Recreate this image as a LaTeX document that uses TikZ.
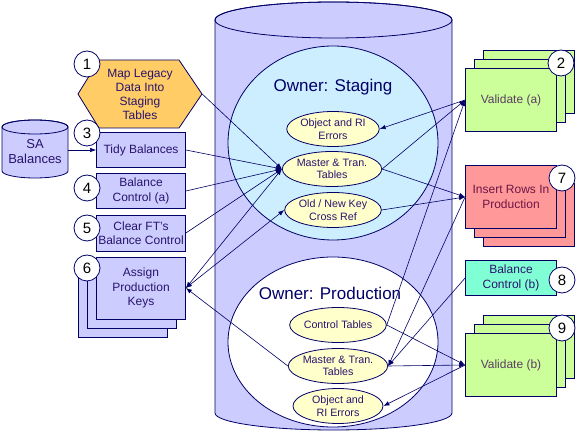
\documentclass[tikz,border=0pt]{standalone}
\usepackage{fontspec}
\setmainfont{Liberation Sans}
\usetikzlibrary{arrows.meta,shapes.geometric}

\definecolor{navy}{RGB}{0,0,102}
\definecolor{lav}{RGB}{204,204,255}
\definecolor{stagefill}{RGB}{204,238,255}
\definecolor{tblfill}{RGB}{255,255,204}
\definecolor{hexfill}{RGB}{255,204,102}
\definecolor{grn}{RGB}{204,255,153}
\definecolor{salmon}{RGB}{255,153,153}
\definecolor{aqua}{RGB}{128,255,212}
\definecolor{txtblue}{RGB}{40,20,110}
\definecolor{txtred}{RGB}{110,20,70}
\definecolor{txtgrn}{RGB}{90,60,100}

\begin{document}
\begin{tikzpicture}[x=1pt,y=1pt,
    outline/.style={draw=navy,line width=0.8pt},
    tbl/.style={ellipse,outline,fill=tblfill,inner sep=0pt,minimum width=90pt,
      minimum height=35pt,align=center,text=txtblue,font=\fontsize{10.7}{12.5}\selectfont},
    procbox/.style={rectangle,outline,fill=lav,inner sep=1pt,minimum width=89pt,
      minimum height=35pt,align=center,text=txtblue,font=\fontsize{12}{14.5}\selectfont},
    valbox/.style={procbox,fill=grn,text=txtgrn,minimum width=91pt,minimum height=63pt},
    insbox/.style={valbox,fill=salmon,text=txtred},
    ctlbox/.style={procbox,fill=aqua,minimum width=91pt},
    ownerlbl/.style={text=navy,font=\fontsize{17}{20}\selectfont},
    numc/.style={circle,outline,fill=white,inner sep=0pt,minimum size=26pt,
      font=\fontsize{15}{15}\selectfont},
    flow/.style={draw=navy,line width=0.6pt,-{Latex[length=6pt,width=4.5pt]}},
    flowboth/.style={flow,{Latex[length=6pt,width=4.5pt]}-{Latex[length=6pt,width=4.5pt]}}]
  \useasboundingbox (0,0) rectangle (576,-435);

  % the database with its two owners
  \draw[outline,fill=lav] (215,-20) -- (215,-413)
    arc[start angle=180,end angle=360,x radius=118.5,y radius=17]
    -- (452,-20) arc[start angle=0,end angle=180,x radius=118.5,y radius=18] -- cycle;
  \draw[outline] (333.5,-20) ellipse[x radius=118.5,y radius=18];
  \draw[outline,fill=stagefill] (333,-143) ellipse[x radius=105,y radius=97];
  \draw[outline,fill=white] (333,-342) ellipse[x radius=105,y radius=85];
  \node[ownerlbl] (stg) at (333,-87) {Owner: Staging};
  \node[ownerlbl] (prd) at (330,-293) {Owner: Production};

  \node[tbl] (serr) at (333,-129) {Object and RI\\Errors};
  \node[tbl] (smast) at (332,-169) {Master \& Tran.\\Tables};
  \node[tbl] (xref) at (333,-210) {Old / New Key\\Cross Ref};
  \node[tbl] (ctrl) at (338,-325) {Control Tables};
  \node[tbl] (pmast) at (338,-366) {Master \& Tran.\\Tables};
  \node[tbl] (perr) at (338,-406) {Object and\\RI Errors};

  % left hand steps
  \draw[outline,fill=hexfill] (78,-94) -- (99,-60) -- (179,-60) -- (202,-94)
    -- (179,-128) -- (99,-128) -- cycle;
  \node[align=center,text=txtblue,minimum width=124pt,inner sep=0pt,
    font=\fontsize{12}{14}\selectfont] (map) at (140,-94) {Map Legacy\\Data Into\\Staging\\Tables};

  \draw[outline,fill=lav] (2,-127) -- (2,-171)
    arc[start angle=180,end angle=360,x radius=33,y radius=7]
    -- (68,-127) arc[start angle=0,end angle=180,x radius=33,y radius=7] -- cycle;
  \draw[outline] (35,-127) ellipse[x radius=33,y radius=7];
  \node[align=center,text=txtblue,minimum width=66pt,inner sep=0pt,
    font=\fontsize{13}{15}\selectfont] (sa) at (35,-152) {SA\\Balances};

  \node[procbox] (tidy) at (141,-150) {Tidy Balances};
  \node[procbox] (bca) at (141,-191) {Balance\\Control (a)};
  \node[procbox,minimum height=36pt] (clr) at (141,-233) {Clear FT's\\Balance Control};
  \foreach \k in {2,1}
    \node[procbox,minimum height=62pt] (keys\k) at ({141-9*\k},{-288-9*\k}) {};
  \node[procbox,minimum height=62pt] (keys) at (141,-288) {Assign\\Production\\Keys};

  % right hand steps
  \foreach \k in {2,1}
    \node[valbox] (vala\k) at ({511+9*\k},{-100+9*\k}) {};
  \node[valbox] (vala) at (511,-100) {Validate (a)};
  \foreach \k in {2,1}
    \node[insbox] (ins\k) at ({511+9*\k},{-197-9*\k}) {};
  \node[insbox] (ins) at (511,-197) {Insert Rows In\\Production};
  \node[ctlbox] (bcb) at (511,-278) {Balance\\Control (b)};
  \foreach \k in {2,1}
    \node[valbox] (valb\k) at ({511+9*\k},{-365+9*\k}) {};
  \node[valbox] (valb) at (511,-365) {Validate (b)};

  % connectors
  \draw[flow] (sa.east |- tidy.west) -- (tidy.west);
  \draw[flow] (map.east) -- (smast.west);
  \foreach \src in {tidy,bca,clr}
    \draw[flow] (\src.east) -- (smast.west);
  \draw[flowboth] (smast.west) -- (keys.east);
  \draw[flowboth] (keys.east) -- (xref.west);
  \draw[flow] (pmast.west) -- (keys.east);

  \draw[flow] (vala.west) -- (serr.east);
  \draw[flow] (smast.east) -- (vala.west);
  \draw[flow] (ctrl.east) -- (vala.west);
  \draw[flow] (smast.east) -- (ins.west);
  \draw[flow] (xref.east) -- (ins.west);
  \draw[flow] (ins.west) -- (pmast.east);
  \draw[flow] (bcb.west) -- (pmast.east);
  \draw[flow] (pmast.east) -- (valb.west);
  \draw[flow] (ctrl.east) -- (valb.west);
  \draw[flow] (valb.west) -- (perr.east);

  % step numbers
  \node[numc] (n1) at (87,-64) {1};
  \node[numc] (n2) at (561,-63) {2};
  \node[numc] (n3) at (87,-133) {3};
  \node[numc] (n4) at (87,-188) {4};
  \node[numc] (n5) at (87,-228) {5};
  \node[numc] (n6) at (87,-268) {6};
  \node[numc] (n7) at (562,-178) {7};
  \node[numc] (n8) at (562,-280) {8};
  \node[numc] (n9) at (562,-328) {9};
\end{tikzpicture}
\end{document}
